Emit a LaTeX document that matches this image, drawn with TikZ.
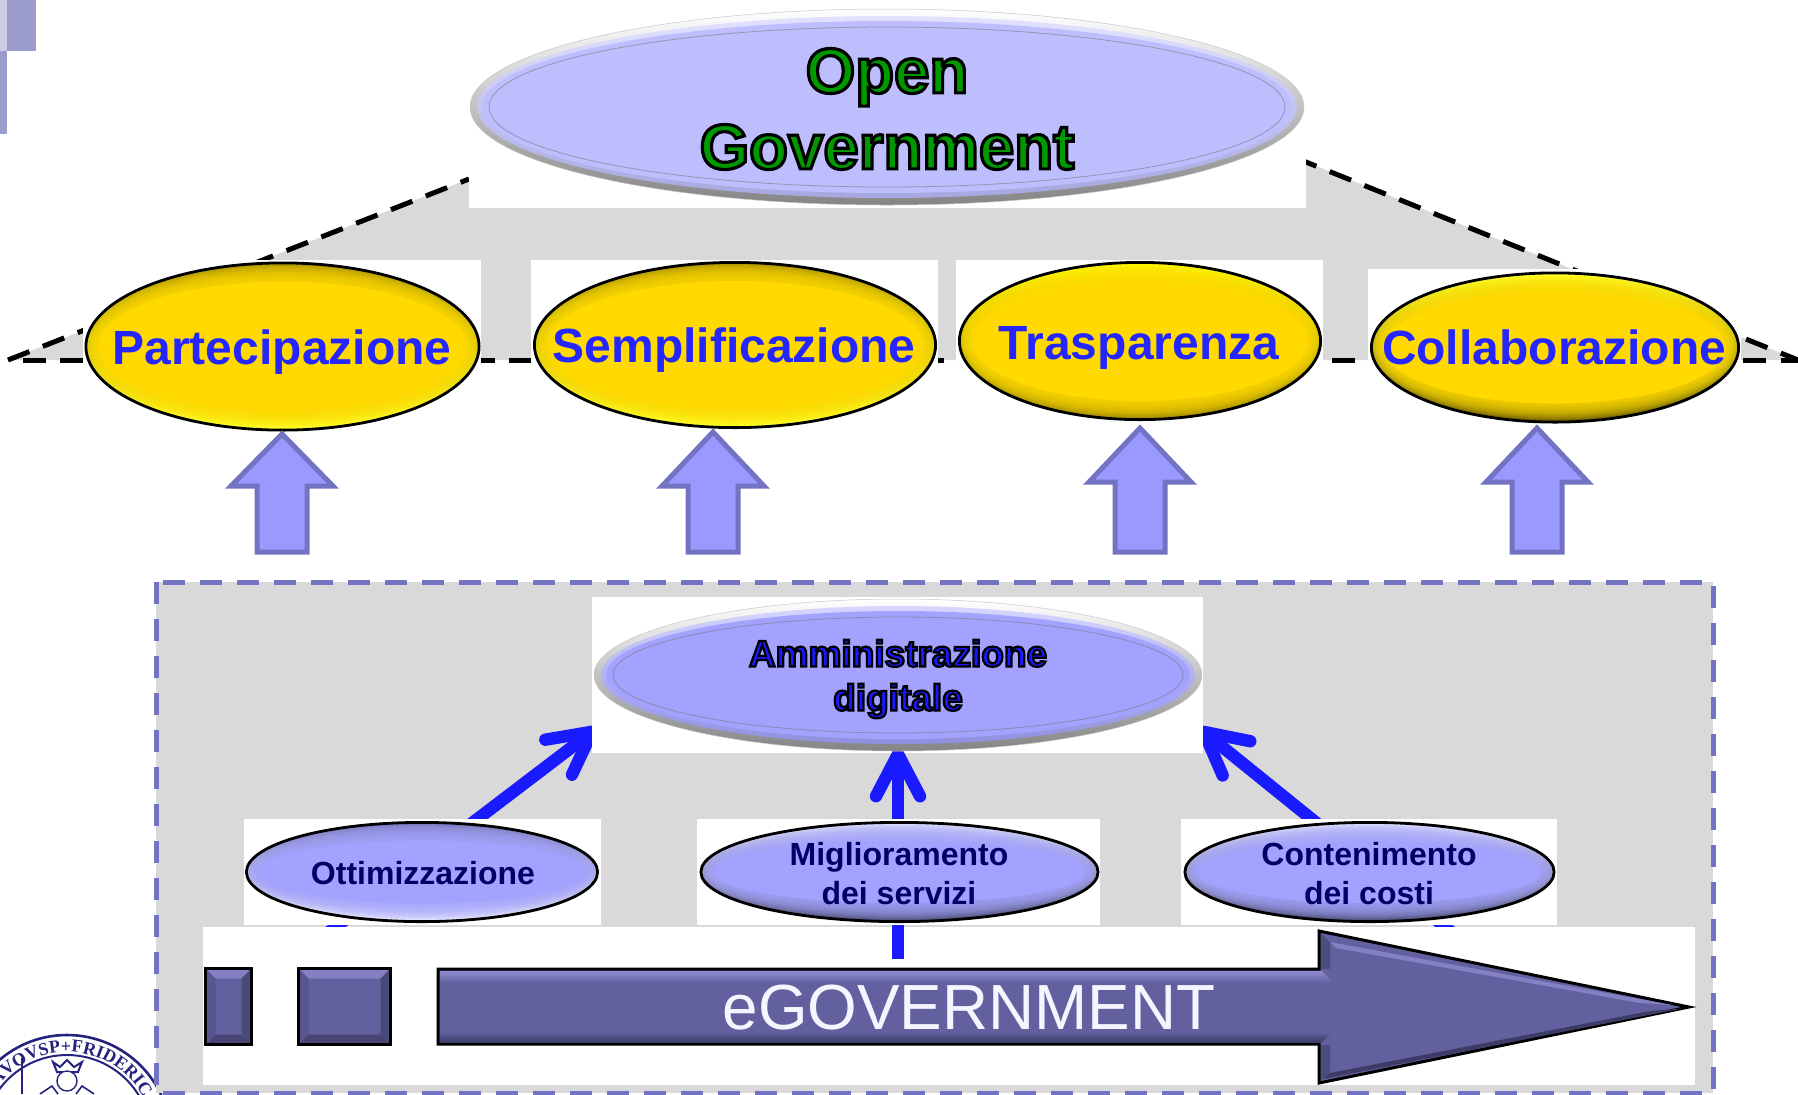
\documentclass[tikz,border=0pt]{standalone}
\usepackage{fontspec}
\setmainfont{Liberation Sans}
\newfontface\outA{Liberation Sans Bold}[FakeBold=5]
\newfontface\outB{Liberation Sans Bold}[FakeBold=6]
\newfontfamily\sealfont{Liberation Serif}
\usetikzlibrary{shapes.geometric,arrows.meta,decorations.text,calc}
\definecolor{greyfill}{HTML}{D9D9D9}
\definecolor{tabA}{HTML}{9C9CCC}
\definecolor{tabB}{HTML}{CCCCE6}
\definecolor{pale}{HTML}{BEBEFF}
\definecolor{peri}{HTML}{A3A3FF}
\definecolor{gold}{HTML}{FFD900}
\definecolor{blk}{HTML}{9999FF}
\definecolor{blkline}{HTML}{7373C4}
\definecolor{elec}{HTML}{1A1AFF}
\definecolor{navy}{HTML}{000066}
\definecolor{seal}{HTML}{24247E}
\definecolor{slate}{HTML}{62609E}
\definecolor{slateL}{HTML}{8E8CD0}
\definecolor{slateD}{HTML}{3C3C66}
\newcommand{\greenout}[1]{\special{pdf:bc [0 0.6 0] [0 0 0]}#1\special{pdf:ec}}
\newcommand{\blueout}[1]{\special{pdf:bc [0.1 0.1 1] [0 0 0]}#1\special{pdf:ec}}
\tikzset{
  x=0.5pt,y=-0.5pt,
  whitebox/.style={fill=white},
  dashline/.style={draw=black,line width=2.5pt,dash pattern=on 11.5pt off 7.2pt},
  boxdash/.style={fill=greyfill,draw=blkline,line width=2.5pt,dash pattern=on 11pt off 7.5pt},
  blockarrow/.style={fill=blk,draw=blkline,line width=2.5pt,miter limit=10},
  pointer/.style={draw=elec,line width=6.2pt,-{Straight Barb[round,length=21pt,width=22pt]}},
  bev/.style n args={5}{ellipse,inner sep=0pt,minimum width=#1pt-1.4pt,minimum height=#2pt-1.4pt,draw=black,line width=1.4pt,
    path picture={
      \shade[top color=#4,bottom color=#5] (path picture bounding box.south west) rectangle (path picture bounding box.north east);
      \foreach \k in {2,3,...,9}{
        \fill[#3,opacity=0.2] (path picture bounding box.center) ellipse [x radius={#1-\k*1.4},y radius={#2-\k*2}];
      }
      \fill[#3] (path picture bounding box.center) ellipse [x radius={#1-14},y radius={#2-20}];
    }},
  glass/.style n args={3}{ellipse,inner sep=0pt,minimum width=#1pt,minimum height=#2pt,draw=black!22,line width=0.25pt,
    path picture={
      \shade[top color=white,middle color=white,bottom color=black!48] (path picture bounding box.south west) rectangle (path picture bounding box.north east);
      \shade[top color=#3!45!white,middle color=#3,bottom color=#3!88!black] (path picture bounding box.center) ellipse [x radius={#1-7},y radius={#2-7}];
      \fill[#3] (path picture bounding box.center) ellipse [x radius={#1-12},y radius={#2-12}];
      \draw[#3!60!black!75,line width=0.4pt] (path picture bounding box.center) ellipse [x radius={#1-19},y radius={#2-18}];
    }},
  bigT/.style={font=\bfseries\fontsize{24}{28}\selectfont,text=elec!95!white,anchor=base,inner sep=0pt},
  smallT/.style={font=\bfseries\fontsize{16}{19.4}\selectfont,text=navy,align=center,inner sep=0pt},
  egovbox/.style={rectangle,draw=black,line width=1.5pt,fill=slate,inner sep=0pt,
    path picture={
      \coordinate (nw) at (path picture bounding box.north west);
      \coordinate (ne) at (path picture bounding box.north east);
      \coordinate (sw) at (path picture bounding box.south west);
      \coordinate (se) at (path picture bounding box.south east);
      \fill[slateL!75!slate] (nw) -- (ne) -- ++(-10,10) -- ($(nw)+(10,10)$) -- cycle;
      \fill[slateD!75!slate] (sw) -- (se) -- ++(-10,-10) -- ($(sw)+(10,-10)$) -- cycle;
      \fill[slateD!65!slate] (ne) -- (se) -- ++(-10,-10) -- ($(ne)+(-10,10)$) -- cycle;
      \fill[slate!90!black] (nw) -- (sw) -- ++(10,-10) -- ($(nw)+(10,10)$) -- cycle;
    }},
}
\begin{document}
\begin{tikzpicture}
\useasboundingbox (0,0) rectangle (1798,1094);
\clip (0,0) rectangle (1798,1094);
% corner tabs
\fill[tabB] (0,0) rectangle (7,51);
\fill[tabA] (7,0) rectangle (36,51);
\fill[tabA] (0,51) rectangle (7,134);
% top grey trapezoid
\coordinate (trapL) at (8,360);
\coordinate (trapB) at (23,360);
\coordinate (trapTL) at (469,179);
\coordinate (trapTR) at (1306,162);
\coordinate (trapTX) at (1295,157.6);
\coordinate (trapR) at (1798,360);
\fill[greyfill] (trapL) -- (trapTL) -- (trapTR) -- (trapR) -- cycle;
\draw[dashline] (trapL) -- (trapTL);
\draw[dashline] (trapTX) -- (trapR);
\draw[dashline] (trapB) -- (trapR);
% white panels
\fill[whitebox] (469,0) rectangle (1306,208);
\fill[whitebox] (83,260) rectangle (481,435);
\fill[whitebox] (531,260) rectangle (938,435);
\fill[whitebox] (956,260) rectangle (1323,425);
\fill[whitebox] (1368,269) rectangle (1741,425);
% seal
\coordinate (sealC) at (67,1139);
\filldraw[fill=white,draw=seal,line width=1.3pt] (sealC) circle [radius=104];
\draw[seal,line width=1pt] (sealC) circle [radius=84];
\path[decorate,decoration={text along path,text align=center,
  text={|\sealfont\bfseries\fontsize{9}{10}\selectfont\color{seal}|RAVOVSP+FRIDERIC}}]
  (sealC) ++(190:87) arc (190:350:87);
\draw[seal,line width=1pt,fill=white] (53,1062) -- (57,1072) -- (78,1072) -- (82,1062) -- (74,1067) -- (67,1060) -- (60,1067) -- cycle;
\draw[seal,line width=.7pt,fill=white] (67,1081) circle [radius=10];
\draw[seal,line width=.8pt] (40,1094) -- (52,1086) -- (58,1094) (94,1094) -- (82,1086) -- (76,1094);
\draw[seal,line width=.7pt] (22,1058) -- (22,1094);
% lower grey box
\path[boxdash] (156,582) rectangle (1713,1093);
% blue pointers, side ones under the bottom panel
\coordinate (ottTail) at (325,935);
\coordinate (ammL) at (597,728);
\coordinate (conTail) at (1455,935);
\coordinate (ammR) at (1199,728);
\draw[pointer] (ottTail) -- (ammL);
\draw[pointer] (conTail) -- (ammR);
\fill[whitebox] (203,927) rectangle (1695,1085);
\fill[whitebox] (592,597) rectangle (1203,753);
\coordinate (migTail) at (898,959);
\coordinate (ammB) at (898,748);
\draw[pointer] (migTail) -- (ammB);
\fill[whitebox] (244,819) rectangle (601,925);
\fill[whitebox] (697,819) rectangle (1100,925);
\fill[whitebox] (1181,819) rectangle (1557,925);
% top ellipse
\node[glass={417}{98}{pale}] (open) at (887,107) {};
\node[font=\outA\fontsize{31.8}{38}\selectfont,align=center,inner sep=0pt] (openT) at (887,109) {\greenout{Open}\\\greenout{Government}};
% yellow ellipses
\node[bev={198}{85}{gold}{gold!70!black}{yellow!85!white}] (part) at (282.5,346.5) {};
\node[bev={202}{84}{gold}{gold!70!black}{yellow!85!white}] (semp) at (735,345) {};
\node[bev={182}{80}{gold}{yellow!80!gold}{gold!65!black}] (tras) at (1140,341) {};
\node[bev={185}{76}{gold}{yellow!85!white}{gold!45!black}] (coll) at (1555,347.5) {};
\node[bigT] (partT) at (282,364) {Partecipazione};
\node[bigT] (sempT) at (734,362) {Semplificazione};
\node[bigT] (trasT) at (1139,359) {Trasparenza};
\node[bigT] (collT) at (1554,364) {Collaborazione};
% block arrows
\coordinate (bA) at (282,552);
\coordinate (bB) at (713,552);
\coordinate (bC) at (1140,552);
\coordinate (bD) at (1537,552);
\draw[blockarrow] (bA) ++(-25,0) -- ++(0,-66) -- ++(-26,0) -- ++(51,-52) -- ++(51,52) -- ++(-26,0) -- ++(0,66) -- cycle;
\draw[blockarrow] (bB) ++(-25,0) -- ++(0,-66) -- ++(-26,0) -- ++(51,-54) -- ++(51,54) -- ++(-26,0) -- ++(0,66) -- cycle;
\draw[blockarrow] (bC) ++(-25,0) -- ++(0,-70) -- ++(-26,0) -- ++(51,-54) -- ++(51,54) -- ++(-26,0) -- ++(0,70) -- cycle;
\draw[blockarrow] (bD) ++(-25,0) -- ++(0,-70) -- ++(-26,0) -- ++(51,-54) -- ++(51,54) -- ++(-26,0) -- ++(0,70) -- cycle;
% Amministrazione
\node[glass={304}{76}{peri}] (amm) at (898,675) {};
\node[font=\outB\fontsize{18.5}{22}\selectfont,align=center,inner sep=0pt] (ammT) at (898,679) {\blueout{Amministrazione}\\\blueout{digitale}};
% small ellipses
\node[bev={177}{51}{peri}{peri!75!black}{white!70!peri}] (ott) at (422,872) {};
\node[bev={200}{51}{peri}{white!60!peri}{peri!50!black}] (mig) at (899.5,872) {};
\node[bev={186}{51}{peri}{white!60!peri}{peri!50!black}] (con) at (1369.5,872) {};
\node[smallT] (ottT) at (423,873) {Ottimizzazione};
\node[smallT] (migT) at (899,873.5) {Miglioramento\\dei servizi};
\node[smallT] (conT) at (1369,873.5) {Contenimento\\dei costi};
% eGOVERNMENT bar
\node[egovbox,minimum width=23pt,minimum height=38pt] (sqA) at (228.5,1006.5) {};
\node[egovbox,minimum width=46pt,minimum height=38pt] (sqB) at (344.5,1006.5) {};
\coordinate (tip) at (1689,1007);
\draw[black,fill=slate,line width=1.5pt] (438,969) -- (1319,969) -- (1319,931) -- (tip) -- (1319,1083) -- (1319,1044) -- (438,1044) -- cycle;
\shade[top color=slateL,bottom color=slate] (440,971) -- (1322,971) -- (1333,983) -- (440,983) -- cycle;
\shade[top color=slate,bottom color=slateD] (440,1032) -- (1333,1032) -- (1322,1042) -- (440,1042) -- cycle;
\fill[slateL!75!slate] (1330,942) -- (1672,1005) -- (1640,1003) -- (1336,948) -- cycle;
\fill[slateD] (1323,1079) -- (1682,1008.5) -- (1650,1011) -- (1330,1073) -- cycle;
\fill[slateD!55!slate] (1321,934) -- (1330,942) -- (1330,969) -- (1321,969) -- cycle;
\fill[slateD!55!slate] (1321,1045) -- (1330,1045) -- (1330,1073) -- (1321,1080) -- cycle;
\node[font=\fontsize{31.9}{36}\selectfont,text=white!90!blk,anchor=base,inner sep=0pt] (egovT) at (969,1029.5) {eGOVERNMENT};
\end{tikzpicture}
\end{document}
